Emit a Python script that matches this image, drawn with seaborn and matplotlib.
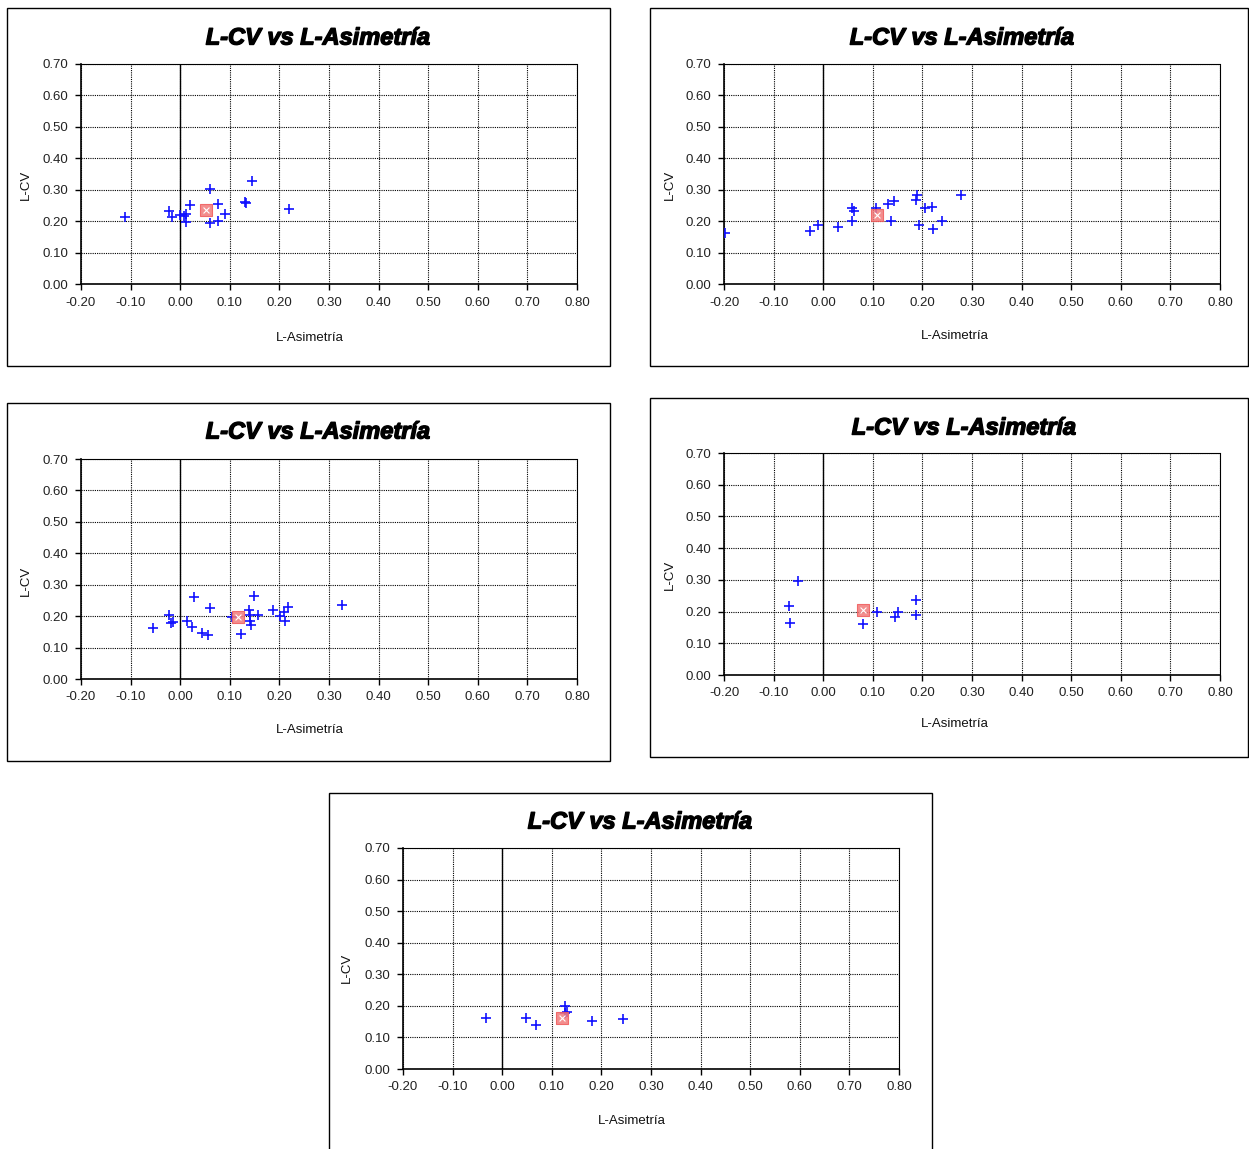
import matplotlib
matplotlib.use("Agg")
import matplotlib.pyplot as plt
import matplotlib.patheffects as pe
import seaborn as sns
import pandas as pd
from matplotlib.patches import Rectangle
from matplotlib.ticker import MultipleLocator, FormatStrFormatter

sns.set_style("white")
plt.rcParams['font.family'] = ['Liberation Sans', 'DejaVu Sans']

TITLE = "L-CV vs L-Asimetría"
XLABEL = "L-Asimetría"
YLABEL = "L-CV"

# Panel 1
p1_x = [-0.111, -0.023, -0.017, -0.001, 0.007, 0.012, 0.019, 0.012, 0.061, 0.077,
        0.090, 0.061, 0.077, 0.131, 0.133, 0.144, 0.220]
p1_y = [0.214, 0.232, 0.214, 0.221, 0.217, 0.224, 0.251, 0.196, 0.303, 0.254,
        0.222, 0.193, 0.199, 0.261, 0.258, 0.327, 0.238]
p1_mean = (0.052, 0.235)

# Panel 2
p2_x = [-0.198, -0.027, -0.010, 0.030, 0.059, 0.062, 0.059, 0.106, 0.131, 0.142,
        0.136, 0.190, 0.188, 0.205, 0.219, 0.193, 0.221, 0.239, 0.278]
p2_y = [0.163, 0.169, 0.188, 0.181, 0.242, 0.232, 0.202, 0.242, 0.254, 0.263,
        0.202, 0.283, 0.267, 0.242, 0.246, 0.189, 0.174, 0.199, 0.282]
p2_mean = (0.109, 0.220)

# Panel 3
p3_x = [-0.055, -0.022, -0.019, -0.015, 0.028, 0.061, 0.014, 0.024, 0.043, 0.057,
        0.105, 0.122, 0.139, 0.141, 0.140, 0.143, 0.148, 0.157, 0.188, 0.201,
        0.210, 0.218, 0.211, 0.327]
p3_y = [0.163, 0.203, 0.179, 0.181, 0.261, 0.227, 0.185, 0.167, 0.147, 0.139,
        0.198, 0.142, 0.218, 0.203, 0.185, 0.171, 0.264, 0.203, 0.221, 0.200,
        0.214, 0.229, 0.185, 0.236]
p3_mean = (0.117, 0.196)

# Panel 4
p4_x = [-0.050, -0.069, -0.067, 0.081, 0.108, 0.145, 0.151, 0.187, 0.187]
p4_y = [0.296, 0.218, 0.164, 0.160, 0.199, 0.184, 0.198, 0.238, 0.189]
p4_mean = (0.081, 0.205)

# Panel 5
p5_x = [-0.032, 0.048, 0.068, 0.126, 0.130, 0.127, 0.182, 0.244]
p5_y = [0.161, 0.161, 0.140, 0.200, 0.181, 0.177, 0.151, 0.157]
p5_mean = (0.120, 0.163)

W, H = 1249, 1149
fig = plt.figure(figsize=(W / 100, H / 100), dpi=100)

panels = [
    # frame, axes rect (pixels), title (x,y), xlabel (x,y), ylabel (x,y), data
    ((7, 8, 610, 366), (81, 64, 577, 284), (318, 38), (310, 338), (26, 185), p1_x, p1_y, p1_mean),
    ((650, 8, 1248, 366), (724, 64, 1220, 284), (962, 38), (955, 336), (670, 185), p2_x, p2_y, p2_mean),
    ((7, 403, 610, 761), (81, 459, 577, 679), (318, 432), (310, 730), (26, 581), p3_x, p3_y, p3_mean),
    ((650, 398, 1248, 757), (724, 453, 1220, 675), (964, 428), (955, 724), (670, 575), p4_x, p4_y, p4_mean),
    ((329, 793, 932, 1160), (403, 848, 899, 1069), (640, 822), (632, 1121), (347, 968), p5_x, p5_y, p5_mean),
]

def fx(px):
    return px / W

def fy(py):
    return 1 - py / H

for frame, axr, tpos, xlpos, ylpos, xs, ys, mean in panels:
    fx0, fy0, fx1, fy1 = frame
    fig.patches.append(Rectangle((fx(fx0), fy(fy1)), (fx1 - fx0) / W, (fy1 - fy0) / H,
                                 transform=fig.transFigure, fill=False,
                                 edgecolor="black", linewidth=1.0))
    x0, y0, x1, y1 = axr
    ax = fig.add_axes([fx(x0), fy(y1), (x1 - x0) / W, (y1 - y0) / H])
    df = pd.DataFrame({"x": xs, "y": ys})
    ax.set_xlim(-0.2, 0.8)
    ax.set_ylim(0, 0.7)
    ax.xaxis.set_major_locator(MultipleLocator(0.1))
    ax.yaxis.set_major_locator(MultipleLocator(0.1))
    ax.xaxis.set_major_formatter(FormatStrFormatter("%.2f"))
    ax.yaxis.set_major_formatter(FormatStrFormatter("%.2f"))
    ax.grid(True, color="black", linestyle=(0, (1, 1)), linewidth=0.8)
    ax.set_axisbelow(True)
    for s in ["top", "right"]:
        ax.spines[s].set_linestyle((0, (1, 1)))
        ax.spines[s].set_linewidth(0.8)
        ax.spines[s].set_color("black")
    for s in ["left", "bottom"]:
        ax.spines[s].set_color("black")
        ax.spines[s].set_linewidth(1.2)
    ax.axvline(0, color="black", linewidth=1.0, zorder=1)
    ax.tick_params(axis="both", direction="out", length=4, width=1, color="black",
                   labelsize=9.5, labelcolor="#222222", pad=5,
                   bottom=True, left=True)
    sns.scatterplot(data=df, x="x", y="y", ax=ax, marker="+", s=45,
                    color="#1010ff", linewidth=1.2, zorder=3, legend=False)
    mdf = pd.DataFrame({"x": [mean[0]], "y": [mean[1]]})
    sns.scatterplot(data=mdf, x="x", y="y", ax=ax, marker="s", s=70,
                    color="#f27a7a", edgecolor="#f05a5a", linewidth=0.8,
                    alpha=0.85, zorder=4, legend=False)
    sns.scatterplot(data=mdf, x="x", y="y", ax=ax, marker="x", s=18,
                    color="white", linewidth=0.8, zorder=5, legend=False)
    ax.set_xlabel("")
    ax.set_ylabel("")
    fig.text(fx(tpos[0]), fy(tpos[1]), TITLE, fontsize=17, fontweight="bold",
             fontstyle="italic", ha="center", va="center", color="black",
             path_effects=[pe.withStroke(linewidth=1.0, foreground="black")])
    fig.text(fx(xlpos[0]), fy(xlpos[1]), XLABEL, fontsize=9.5, ha="center",
             va="center", color="#111111")
    fig.text(fx(ylpos[0]), fy(ylpos[1]), YLABEL, fontsize=9.5, ha="center",
             va="center", rotation=90, color="#111111")

fig.savefig("out.png", dpi=100)
